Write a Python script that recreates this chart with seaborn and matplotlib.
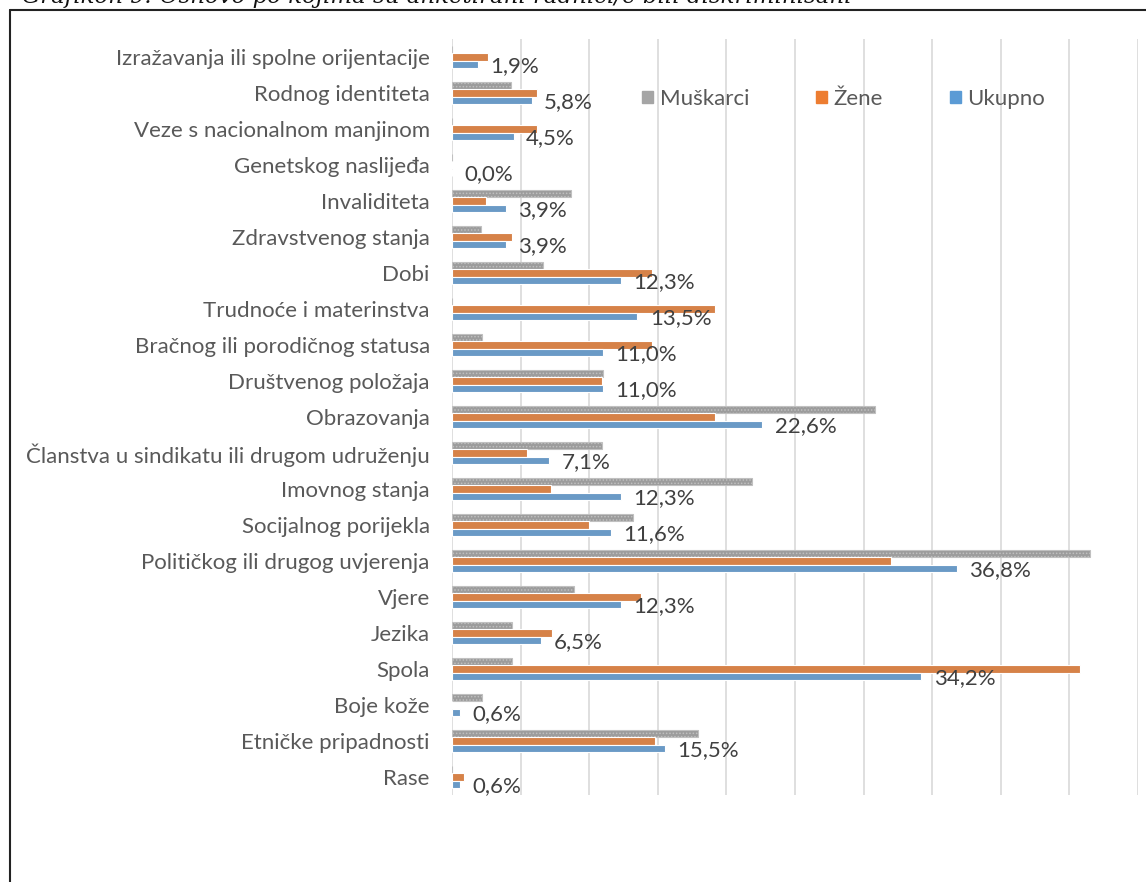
import matplotlib
matplotlib.use('Agg')
import matplotlib.pyplot as plt
from matplotlib.lines import Line2D
import numpy as np
import pandas as pd
import seaborn as sns

# ─────────────────────────────────────────────────────────────────────────────
# Data (percent)
# ─────────────────────────────────────────────────────────────────────────────
CATEGORIES = [
    'Izražavanja ili spolne orijentacije', 'Rodnog identiteta',
    'Veze s nacionalnom manjinom', 'Genetskog naslijeđa', 'Invaliditeta',
    'Zdravstvenog stanja', 'Dobi', 'Trudnoće i materinstva',
    'Bračnog ili porodičnog statusa', 'Društvenog položaja', 'Obrazovanja',
    'Članstva u sindikatu ili drugom udruženju', 'Imovnog stanja',
    'Socijalnog porijekla', 'Političkog ili drugog uvjerenja', 'Vjere',
    'Jezika', 'Spola', 'Boje kože', 'Etničke pripadnosti', 'Rase',
]
MUSKARCI = [0.0, 4.3, 0.0, 0.0, 8.7, 2.1, 6.6, 0.0, 2.2, 11.0, 30.8,
            10.9, 21.9, 13.2, 46.5, 8.9, 4.4, 4.4, 2.2, 17.9, 0.0]
ZENE     = [2.6, 6.2, 6.2, 0.0, 2.5, 4.4, 14.6, 19.2, 14.6, 10.9, 19.2,
            5.5, 7.2, 10.0, 32.0, 13.8, 7.3, 45.8, 0.0, 14.8, 0.9]
UKUPNO   = [1.9, 5.8, 4.5, 0.0, 3.9, 3.9, 12.3, 13.5, 11.0, 11.0, 22.6,
            7.1, 12.3, 11.6, 36.8, 12.3, 6.5, 34.2, 0.6, 15.5, 0.6]
SERIES = ['Muškarci', 'Žene', 'Ukupno']
COLORS = ['#a5a5a5', '#ed7d31', '#5b9bd5']
TITLE = 'Grafikon 9: Osnovo po kojima su anketirani radnici/e bili diskriminisani'

df = pd.DataFrame({
    'kategorija': CATEGORIES * 3,
    'serija': np.repeat(SERIES, len(CATEGORIES)),
    'vrijednost': MUSKARCI + ZENE + UKUPNO,
})

# ─────────────────────────────────────────────────────────────────────────────
# Plot
# ─────────────────────────────────────────────────────────────────────────────
sns.set_theme(style='white')
plt.rcParams['font.family'] = ['Lato', 'DejaVu Sans']
plt.rcParams['hatch.linewidth'] = 0.7

fig = plt.figure(figsize=(11.46, 8.82), dpi=100)
ax = fig.add_axes([452 / 1146, 1 - 795 / 882, (1138 - 452) / 1146, (795 - 39) / 882])

sns.barplot(data=df, y='kategorija', x='vrijednost', hue='serija',
            order=CATEGORIES, hue_order=SERIES, palette=COLORS,
            orient='h', width=0.62, edgecolor='white', linewidth=0.8,
            ax=ax)

# dotted texture on the grey series, like the Excel pattern fill
for bar in ax.containers[0]:
    bar.set_facecolor('#9c9c9c')
    bar.set_hatch('.....')
    bar.set_edgecolor('#c0c0c0')

# labels only on the Ukupno series
for bar, val in zip(ax.containers[2], UKUPNO):
    ax.annotate(f'{val:.1f}%'.replace('.', ','),
                xy=(bar.get_width(), bar.get_y() + bar.get_height() / 2),
                xytext=(9, -1.5), textcoords='offset points',
                ha='left', va='center', fontsize=16, color='#404040')

ax.set_xlim(0, 50)
ax.set_ylim(len(CATEGORIES) - 0.5, -0.5)
ax.set_xticks(np.arange(0, 51, 5))
ax.set_xticklabels([])
ax.grid(axis='x', color='#d9d9d9', linewidth=1.2)
ax.set_axisbelow(True)
ax.set_xlabel('')
ax.set_ylabel('')
ax.tick_params(axis='y', length=0, pad=16, labelsize=16, labelcolor='#595959')
ax.tick_params(axis='x', length=0)
sns.despine(ax=ax, left=True, bottom=True)

# legend inside the plot area, one row
handles = [plt.Rectangle((0, 0), 1, 1, color=c) for c in COLORS]
ax.legend(handles, SERIES, loc='center left', bbox_to_anchor=(622 / 1146, 1 - 99 / 882),
          bbox_transform=fig.transFigure, ncol=3, frameon=False, fontsize=16,
          handlelength=0.5, handleheight=0.5, handletextpad=0.3,
          columnspacing=3.0, labelcolor='#595959')

# chart frame and clipped caption
fig.add_artist(Line2D([10 / 1146, 10 / 1146], [0, 1 - 10 / 882],
                      transform=fig.transFigure, color='#222222', linewidth=1.5))
fig.add_artist(Line2D([10 / 1146, 1], [1 - 10 / 882, 1 - 10 / 882],
                      transform=fig.transFigure, color='#222222', linewidth=1.5))
fig.text(22 / 1146, 1 + 3.5 / 882, TITLE, ha='left', va='center', fontsize=16.5,
         style='italic', family=['DejaVu Serif'], color='#111111')

fig.savefig('out.png', dpi=100)
plt.close(fig)
